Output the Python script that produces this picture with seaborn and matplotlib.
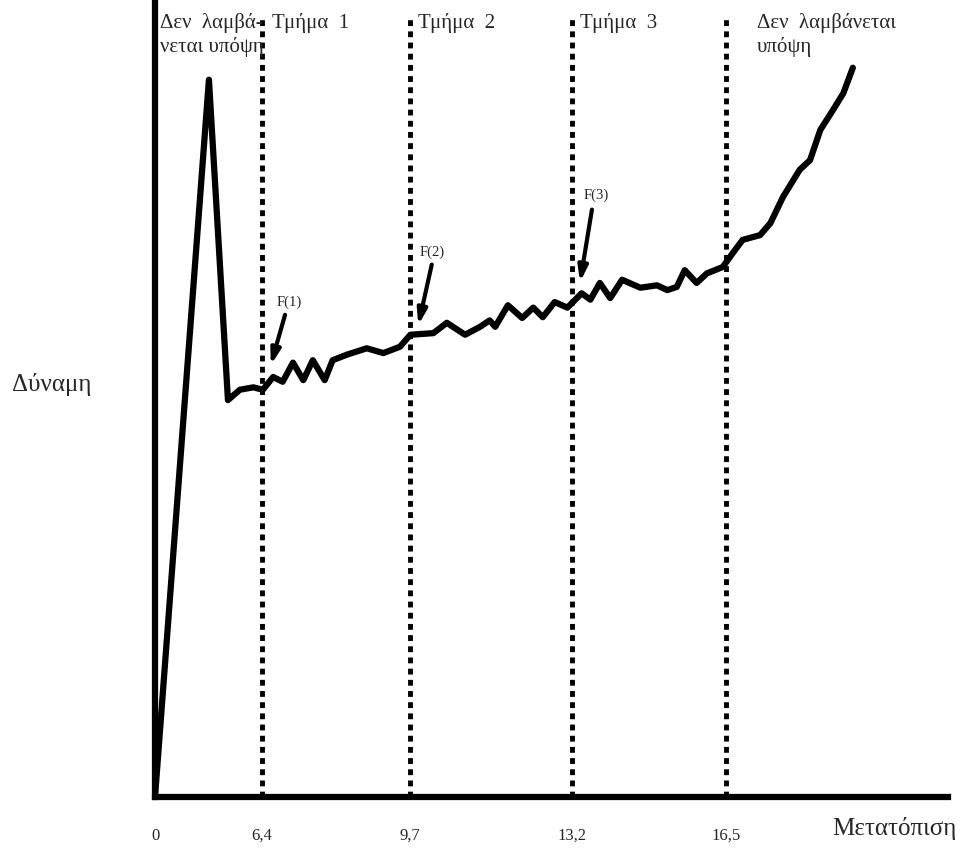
import numpy as np
import pandas as pd
import matplotlib
matplotlib.use("Agg")
import matplotlib.pyplot as plt
import seaborn as sns

# Curve (x and y on a 0-100 drawing scale)
disp_x = [0, 6.8, 9.2, 10.7, 12.4, 13.6, 14.9, 16.1, 17.4, 18.7, 19.9, 21.4, 22.4,
          24.2, 26.7, 28.8, 30.9, 32.2, 35.1, 36.8, 39.1, 41.0, 42.2, 42.9, 44.5,
          46.3, 47.7, 48.9, 50.4, 52.0, 52.7, 53.8, 54.9, 56.1, 57.4, 58.9, 61.2,
          63.3, 64.6, 65.8, 66.8, 68.3, 69.6, 71.6, 72.9, 74.1, 76.3, 77.6, 79.2,
          81.3, 82.6, 83.9, 85.5, 86.8, 88.0]
force = [0, 90.0, 49.8, 51.1, 51.4, 51.1, 52.7, 52.1, 54.5, 52.3, 54.8, 52.3, 54.8,
         55.5, 56.3, 55.7, 56.5, 58.0, 58.2, 59.5, 58.0, 59.0, 59.8, 59.0, 61.7,
         60.1, 61.4, 60.2, 62.1, 61.4, 62.1, 63.2, 62.4, 64.5, 62.6, 64.9, 63.9,
         64.2, 63.6, 64.0, 66.1, 64.5, 65.7, 66.5, 68.3, 69.9, 70.5, 72.0, 75.3,
         78.7, 79.9, 83.7, 86.2, 88.3, 91.5]

# Section boundaries and their labels
bound_pos = [0, 13.5, 32.2, 52.6, 72.0]
bound_labels = ["0", "6,4", "9,7", "13,2", "16,5"]

section_titles = ["Δεν  λαμβά-\nνεται υπόψη", "Τμήμα  1", "Τμήμα  2", "Τμήμα  3",
                  "Δεν  λαμβάνεται\nυπόψη"]
section_title_x = [0.6, 14.8, 33.2, 53.6, 75.9]

f_labels = ["F(1)", "F(2)", "F(3)"]
f_text = [(16.9, 62.1), (34.9, 68.3), (55.6, 75.5)]
f_arrow_start = [(16.4, 60.5), (34.9, 66.8), (55.1, 73.7)]
f_arrow_end = [(14.6, 54.2), (33.2, 59.2), (53.6, 64.6)]

df = pd.DataFrame({"x": disp_x, "force": force})

sns.set_style("white")
plt.rcParams['font.family'] = ['Liberation Serif', 'DejaVu Serif']

fig = plt.figure(figsize=(9.63, 8.48), dpi=100)
ax = fig.add_axes([155 / 963, 1 - 797 / 848, 793 / 963, 797 / 848])

# Section dividers
ax.vlines(bound_pos[1:], 0, 98, colors="black", linewidth=3.5,
          linestyles=[(0, (1.2, 1.1))])

sns.lineplot(data=df, x="x", y="force", color="black", linewidth=4.5, ax=ax,
             sort=False)
ax.lines[-1].set_solid_joinstyle("round")
ax.lines[-1].set_solid_capstyle("round")

for t, xx in zip(section_titles, section_title_x):
    ax.text(xx, 98.4, t, fontsize=15, ha="left", va="top", linespacing=1.3)

for lab, tp, s, e in zip(f_labels, f_text, f_arrow_start, f_arrow_end):
    ax.text(tp[0], tp[1], lab, fontsize=10.5, ha="center", va="center")
    ax.annotate("", xy=e, xytext=s,
                arrowprops=dict(arrowstyle="-|>,head_length=0.9,head_width=0.28",
                                color="black", lw=3, shrinkA=0, shrinkB=0))

ax.set_xlim(0, 100)
ax.set_ylim(0, 100)
ax.set_xticks(bound_pos)
ax.set_xticklabels(bound_labels, fontsize=12)
ax.set_yticks([])
ax.tick_params(axis="x", length=0, pad=22)

ax.set_xlabel("Μετατόπιση", fontsize=18, va="baseline")
ax.xaxis.set_label_coords(0.933, -0.0477)
ax.set_ylabel("Δύναμη", fontsize=18, rotation=0, ha="center", va="center")
ax.yaxis.set_label_coords(-0.13, 0.517)

for side in ["top", "right"]:
    ax.spines[side].set_visible(False)
for side in ["left", "bottom"]:
    ax.spines[side].set_linewidth(4.5)
    ax.spines[side].set_color("black")

fig.savefig("out.png", dpi=100)
